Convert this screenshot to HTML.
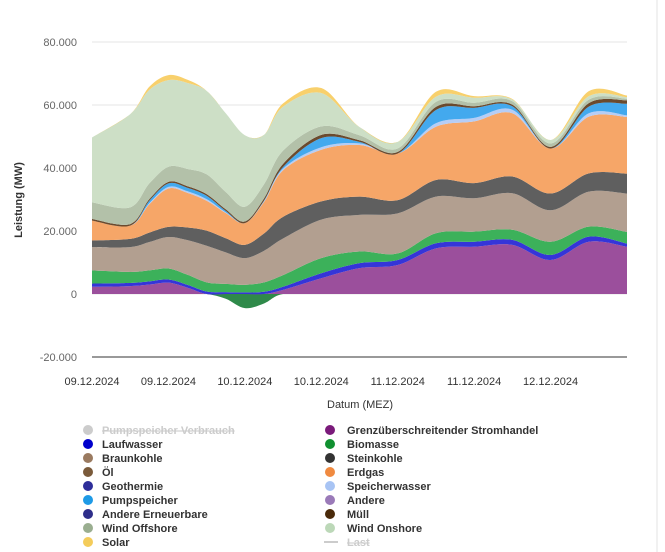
<!DOCTYPE html>
<html><head><meta charset="utf-8"><style>
body{margin:0;background:#fff;width:665px;height:552px;overflow:hidden;font-family:"Liberation Sans",sans-serif}
</style></head><body>
<svg id="chart" width="665" height="552" xmlns="http://www.w3.org/2000/svg" style="position:absolute;left:0;top:0">
<line x1="657" y1="0" x2="657" y2="552" stroke="#e3e3e3"/>
<g id="grid"></g><g id="areas"></g><g id="axes"></g><g id="legend"></g>
<text x="22" y="200" transform="rotate(-90 22 200)" text-anchor="middle" font-size="11" font-weight="bold" fill="#333">Leistung (MW)</text>
<text x="360" y="408" text-anchor="middle" font-size="11" fill="#333">Datum (MEZ)</text>
</svg>
<script>
const hours=[0,6,9,12,15,18,21,24,27,30,36,42,48,54,60,66,72,78,84];
const trade=[2300,2500,3000,3600,2000,0,-1500,-4500,-3000,1300,5000,8200,9200,14500,15000,15600,10800,16600,15000];
const laufwasser=[1000,1000,1000,1000,900,800,600,500,700,1000,1600,1600,1600,1600,1600,1600,1600,1600,1000];
const biomasse=[4200,3500,3500,3500,3200,2900,2600,2400,3000,3700,4800,3700,2100,3200,3200,3200,4200,3200,3700];
const braunkohle=[7400,7900,9000,10000,11000,11600,10000,8500,10000,11600,12200,11600,12700,11600,10600,11600,10000,11100,12200];
const steinkohle=[2100,2600,3000,3200,4000,4800,4500,4200,5500,6900,5800,5800,4200,5300,4800,5300,5300,5800,6300];
const erdgas=[6300,4200,9000,12200,11000,9500,8000,6900,10000,14800,16400,16400,14800,16900,19600,20100,14300,18000,18000];
const speicherwasser=[0,0,300,500,500,500,200,0,200,500,800,500,0,1100,1100,1100,0,1100,500];
const pumpspeicher=[0,0,800,1100,1100,1100,500,0,200,500,2900,500,0,4200,3200,1100,0,2100,3700];
const muell=[500,500,500,500,500,500,500,500,700,1000,1000,500,500,1000,500,500,500,1100,1100];
const windOffshore=[5300,5300,5000,4800,5500,6300,5500,4700,4500,4200,2700,1600,1100,1600,1100,1100,1100,1100,500];
const windOnshore=[20600,29600,29700,27500,27300,26500,25000,22700,15700,14000,10600,2600,2100,1600,1600,500,1100,1100,500];
const solar=[0,0,1000,1600,1000,0,0,0,0,1000,1600,0,0,1600,500,200,0,1600,500];
const yTicks=[80000,60000,40000,20000,0,-20000];
const yTickLabels=["80.000","60.000","40.000","20.000","0","-20.000"];
const xTicks=[0,12,24,36,48,60,72];
const xTickLabels=["09.12.2024","09.12.2024","10.12.2024","10.12.2024","11.12.2024","11.12.2024","12.12.2024"];

const X0=92,X1=627,H=84;
const xS=h=>X0+(h/H)*(X1-X0);
const yS=v=>294-v*63/20000;
const NS="http://www.w3.org/2000/svg";
function mk(tag,attrs,parent){const e=document.createElementNS(NS,tag);for(const k in attrs)e.setAttribute(k,attrs[k]);parent.appendChild(e);return e;}
const grid=document.getElementById('grid'),axes=document.getElementById('axes'),areas=document.getElementById('areas'),legend=document.getElementById('legend');
yTicks.forEach((t,i)=>{
  if(t!==-20000){const l=mk('line',{x1:X0,x2:X1,y1:yS(t),y2:yS(t),stroke:'#e6e6e6'},grid);
  
  }
  const tx=mk('text',{x:77,y:yS(t)+4,'text-anchor':'end','font-size':11,fill:'#666'},axes);
  tx.textContent=yTickLabels[i];
  
  
});
const base=mk('line',{x1:X0,x2:X1,y1:yS(-20000),y2:yS(-20000),stroke:'#333'},axes);


xTicks.forEach((h,i)=>{
  const tx=mk('text',{x:xS(h),y:385,'text-anchor':'middle','font-size':11,fill:'#333'},axes);
  tx.textContent=xTickLabels[i];
  
  
});
function spline(pts){
  let d='';
  for(let i=0;i<pts.length;i++){
    const p=pts[i];
    if(i===0){d+=`M${p[0]},${p[1]}`;continue;}
    const p0=pts[i-2]||pts[i-1],p1=pts[i-1],p3=pts[i+1]||p;
    const c1=[p1[0]+(p[0]-p0[0])/6,p1[1]+(p[1]-p0[1])/6];
    const c2=[p[0]-(p3[0]-p1[0])/6,p[1]-(p3[1]-p1[1])/6];
    d+=`C${c1[0]},${c1[1]} ${c2[0]},${c2[1]} ${p[0]},${p[1]}`;
  }
  return d;
}
function band(lo,hi,color,name){
  const top=hours.map((h,i)=>[xS(h),yS(hi[i])]);
  const bot=hours.map((h,i)=>[xS(h),yS(lo[i])]).reverse();
  const d=spline(top)+'L'+spline(bot).slice(1)+'Z';
  const p=mk('path',{d:d,fill:color,stroke:'none'},areas);
  
  
}
const zero=hours.map(()=>0);
band(trade.map(v=>Math.min(v,0)),zero,'#2f8a4a','area-stromhandel-negative');
const layers=[[trade.map(v=>Math.max(v,0)),'#9b4f9c','area-stromhandel'],[laufwasser,'#3535d8','area-laufwasser'],[biomasse,'#3cb15a','area-biomasse'],[braunkohle,'#b29f90','area-braunkohle'],[steinkohle,'#5f5f5f','area-steinkohle'],[erdgas,'#f6a668','area-erdgas'],[speicherwasser,'#b6cdf5','area-speicherwasser'],[pumpspeicher,'#43a9ee','area-pumpspeicher'],[muell,'#6b4a2e','area-muell'],[windOffshore,'#b3c1a9','area-wind-offshore'],[windOnshore,'#cddfc6','area-wind-onshore'],[solar,'#f8d06c','area-solar']];
let cum=zero.slice();
layers.forEach(([vals,c,n])=>{const nx=cum.map((v,i)=>v+vals[i]);band(cum,nx,c,n);cum=nx;});
const leg=[["Pumpspeicher Verbrauch","#ccc",1],["Grenzüberschreitender Stromhandel","#7a1a7a"],["Laufwasser","#0000cc"],["Biomasse","#109030"],["Braunkohle","#9a7a60"],["Steinkohle","#333"],["Öl","#7a5a3a"],["Erdgas","#f08a40"],["Geothermie","#2e2e9a"],["Speicherwasser","#a8c4f4"],["Pumpspeicher","#1e9ae6"],["Andere","#9a7ab8"],["Andere Erneuerbare","#2e2e8a"],["Müll","#4a2a0a"],["Wind Offshore","#9aae90"],["Wind Onshore","#bcd8b8"],["Solar","#f4cc5a"],["Last","#ccc",2]];
leg.forEach(([t,c,f],i)=>{
  const col=i%2,row=Math.floor(i/2);const x=col?330:88,y=430+row*14;
  const g=mk('g',{},legend);
  
  
  if(f===2)mk('line',{x1:x-6,x2:x+8,y1:y,y2:y,stroke:'#ccc',"stroke-width":2},g);
  else mk('circle',{cx:x,cy:y,r:5,fill:c},g);
  const tx=mk('text',{x:col?347:102,y:y+4,'font-size':11,'font-weight':'bold',fill:f?'#ccc':'#333','text-decoration':f?'line-through':'none'},g);
  tx.textContent=t;
});
</script>
</body></html>
